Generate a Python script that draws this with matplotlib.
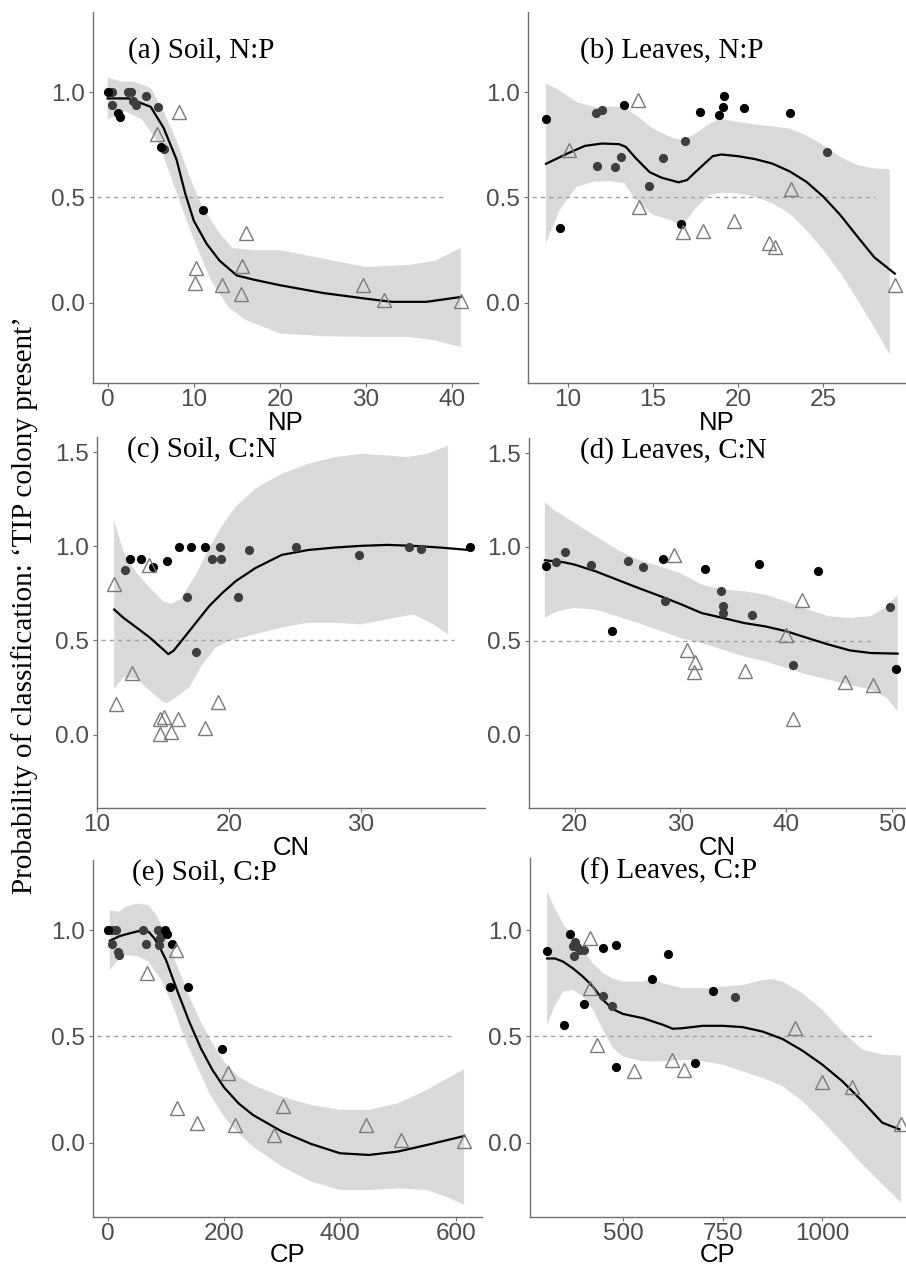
import numpy as np
import matplotlib
matplotlib.use("Agg")
import matplotlib.pyplot as plt

# (a) Soil, N:P
a_black_x = [0, 1.2, 1.4, 6.2, 11.1]
a_black_y = [1.0, 0.90, 0.88, 0.74, 0.44]
a_grey_x = [0.5, 0.5, 2.4, 2.7, 2.9, 3.3, 4.5, 5.8, 6.6]
a_grey_y = [1.0, 0.94, 1.0, 1.0, 0.96, 0.94, 0.98, 0.93, 0.73]
a_tri_x = [8.3, 5.7, 16.1, 10.3, 10.1, 13.3, 15.6, 15.5, 29.6, 32.1, 41.0]
a_tri_y = [0.905, 0.80, 0.33, 0.165, 0.095, 0.084, 0.175, 0.04, 0.084, 0.016, 0.008]
a_fit_x = [0, 2.5, 5, 6.5, 8, 9, 10, 11.5, 13, 15, 17, 20, 25, 30, 33, 37, 41]
a_fit_y = [0.97, 0.97, 0.93, 0.83, 0.68, 0.52, 0.39, 0.28, 0.20, 0.13, 0.11, 0.084, 0.047, 0.02, 0.005, 0.005, 0.028]
a_hi_x = [0, 1.5, 3, 5, 6.5, 8, 9.5, 11, 13, 14.5, 17, 20, 25, 30, 35, 38, 41]
a_hi_y = [1.07, 1.05, 1.05, 1.02, 0.91, 0.77, 0.60, 0.455, 0.33, 0.26, 0.25, 0.25, 0.21, 0.17, 0.18, 0.20, 0.26]
a_lo_x = [0, 2, 4, 6, 7.5, 9, 10.5, 12, 14, 16, 20, 25, 30, 35, 38, 41]
a_lo_y = [0.87, 0.91, 0.87, 0.755, 0.58, 0.41, 0.25, 0.107, -0.019, -0.08, -0.145, -0.158, -0.161, -0.161, -0.177, -0.21]

# (b) Leaves, N:P
b_black_x = [8.71, 9.51, 13.29, 16.63, 17.78, 18.87, 19.1, 19.16, 20.37, 23.04]
b_black_y = [0.874, 0.354, 0.94, 0.375, 0.906, 0.89, 0.929, 0.98, 0.926, 0.902]
b_grey_x = [11.66, 11.99, 11.70, 12.79, 13.14, 14.78, 15.6, 16.86, 25.2]
b_grey_y = [0.90, 0.913, 0.65, 0.643, 0.69, 0.554, 0.687, 0.77, 0.717]
b_tri_x = [10.04, 14.1, 14.17, 16.76, 17.93, 19.75, 21.83, 22.14, 23.1, 29.24]
b_tri_y = [0.724, 0.964, 0.457, 0.334, 0.343, 0.39, 0.283, 0.263, 0.54, 0.087]
b_fit_x = [8.71, 10, 11, 12, 13, 13.4, 14, 14.8, 15.5, 16.5, 17, 17.5, 18.5, 19, 20, 21, 22, 23, 24, 25, 26, 27, 28, 29.2]
b_fit_y = [0.66, 0.71, 0.745, 0.756, 0.753, 0.74, 0.685, 0.62, 0.594, 0.572, 0.583, 0.622, 0.696, 0.704, 0.696, 0.682, 0.661, 0.625, 0.575, 0.504, 0.417, 0.315, 0.216, 0.139]
b_hi_x = [8.71, 9.5, 10.5, 11.5, 12.5, 13.3, 14, 15, 16, 16.7, 17.5, 18.3, 19, 20, 21, 22, 23, 24, 25, 26, 27, 28, 28.9]
b_hi_y = [1.04, 1.008, 0.953, 0.929, 0.932, 0.929, 0.89, 0.827, 0.787, 0.772, 0.803, 0.85, 0.874, 0.858, 0.846, 0.838, 0.827, 0.795, 0.748, 0.693, 0.654, 0.638, 0.633]
b_lo_x = [8.71, 9.5, 10.5, 11.5, 12.5, 13.3, 14, 15, 16, 16.7, 17.5, 18.3, 19, 20, 21, 22, 23, 24, 25, 26, 27, 28, 28.9]
b_lo_y = [0.283, 0.44, 0.551, 0.575, 0.578, 0.567, 0.488, 0.417, 0.394, 0.362, 0.449, 0.512, 0.523, 0.52, 0.504, 0.472, 0.425, 0.346, 0.252, 0.142, 0.016, -0.118, -0.244]

# (c) Soil, C:N
c_black_x = [12.51, 13.32, 14.26, 15.3, 16.19, 17.16, 18.15, 38.25]
c_black_y = [0.93, 0.93, 0.889, 0.924, 0.995, 0.995, 0.995, 0.995]
c_grey_x = [12.13, 19.3, 18.73, 19.37, 16.8, 17.51, 20.69, 21.5, 25.05, 29.82, 33.63, 34.57]
c_grey_y = [0.875, 0.995, 0.93, 0.93, 0.73, 0.44, 0.73, 0.98, 0.995, 0.954, 0.995, 0.986]
c_tri_x = [11.29, 11.42, 12.64, 13.96, 14.8, 15.1, 14.77, 15.6, 16.17, 18.22, 19.16]
c_tri_y = [0.80, 0.16, 0.325, 0.90, 0.084, 0.093, 0.005, 0.014, 0.084, 0.037, 0.172]
c_fit_x = [11.3, 12, 13, 14, 15, 15.4, 15.8, 16.5, 17.5, 18.5, 19.5, 20.5, 22, 24, 26, 28, 30, 32, 34, 36, 38.2]
c_fit_y = [0.664, 0.62, 0.568, 0.515, 0.453, 0.427, 0.445, 0.506, 0.594, 0.682, 0.752, 0.814, 0.884, 0.954, 0.98, 0.993, 1.002, 1.007, 1.002, 0.993, 0.98]
c_hi_x = [11.3, 12, 13, 14, 15, 15.6, 16.3, 17.5, 18.5, 19.5, 20.5, 22, 24, 26, 28, 30, 32, 33.5, 35, 36.6]
c_hi_y = [1.139, 0.972, 0.858, 0.78, 0.708, 0.694, 0.717, 0.849, 0.989, 1.112, 1.209, 1.306, 1.385, 1.438, 1.473, 1.49, 1.482, 1.473, 1.49, 1.534]
c_lo_x = [11.3, 12, 13, 14, 15, 15.3, 16, 17, 18, 19, 20, 22, 24, 26, 28, 30, 32, 34, 35.5, 36.6]
c_lo_y = [0.243, 0.304, 0.295, 0.234, 0.172, 0.167, 0.199, 0.251, 0.374, 0.462, 0.497, 0.533, 0.568, 0.594, 0.594, 0.585, 0.612, 0.638, 0.585, 0.533]

# (d) Leaves, C:N
d_black_x = [17.27, 23.58, 28.36, 32.32, 37.37, 42.97, 50.32]
d_black_y = [0.897, 0.55, 0.934, 0.885, 0.909, 0.87, 0.352]
d_grey_x = [18.27, 19.06, 21.57, 25.03, 26.44, 28.58, 33.82, 33.98, 33.98, 36.78, 40.64, 49.75]
d_grey_y = [0.918, 0.973, 0.902, 0.924, 0.895, 0.71, 0.764, 0.687, 0.648, 0.639, 0.369, 0.68]
d_tri_x = [29.43, 30.62, 31.37, 31.31, 36.12, 39.95, 41.46, 40.58, 45.54, 48.21]
d_tri_y = [0.959, 0.453, 0.387, 0.332, 0.341, 0.533, 0.719, 0.085, 0.281, 0.263]
d_fit_x = [17.2, 18, 19, 20, 22, 24, 26, 28, 30, 32, 34, 36, 38, 40, 42, 44, 46, 48, 50.5]
d_fit_y = [0.929, 0.924, 0.918, 0.906, 0.87, 0.826, 0.782, 0.74, 0.696, 0.648, 0.622, 0.595, 0.577, 0.551, 0.515, 0.48, 0.449, 0.435, 0.432]
d_hi_x = [17.2, 18, 19, 20, 22, 24, 26, 28, 30, 32, 34, 36, 38, 40, 42, 44, 46, 48, 49.5, 50.5]
d_hi_y = [1.238, 1.199, 1.163, 1.128, 1.057, 0.986, 0.932, 0.897, 0.861, 0.799, 0.773, 0.764, 0.746, 0.71, 0.666, 0.631, 0.622, 0.631, 0.684, 0.746]
d_lo_x = [17.2, 18, 19, 20, 22, 24, 26, 28, 30, 32, 34, 36, 38, 40, 42, 44, 46, 48, 49.5, 50.5]
d_lo_y = [0.622, 0.648, 0.666, 0.675, 0.666, 0.631, 0.595, 0.556, 0.515, 0.488, 0.453, 0.417, 0.391, 0.355, 0.32, 0.293, 0.266, 0.24, 0.195, 0.124]

# (e) Soil, C:P
e_black_x = [0, 98, 101, 111, 106, 138, 196]
e_black_y = [1.0, 1.0, 0.984, 0.937, 0.733, 0.733, 0.44]
e_grey_x = [7.5, 13, 7.5, 17, 19, 60, 65, 86, 92, 89, 88]
e_grey_y = [1.0, 1.0, 0.937, 0.898, 0.882, 1.0, 0.937, 1.0, 0.992, 0.961, 0.929]
e_tri_x = [67, 118, 119, 154, 207, 219, 286, 302, 445, 506, 614]
e_tri_y = [0.80, 0.906, 0.161, 0.094, 0.326, 0.083, 0.036, 0.174, 0.083, 0.013, 0.008]
e_fit_x = [3, 20, 40, 60, 70, 80, 90, 100, 120, 140, 160, 180, 200, 225, 250, 300, 350, 400, 450, 500, 550, 614]
e_fit_y = [0.95, 0.972, 0.987, 1.0, 0.992, 0.961, 0.914, 0.859, 0.71, 0.569, 0.444, 0.342, 0.26, 0.185, 0.13, 0.052, -0.006, -0.05, -0.058, -0.042, -0.011, 0.031]
e_hi_x = [3, 20, 30, 50, 70, 85, 100, 120, 140, 160, 180, 200, 225, 250, 300, 350, 400, 450, 500, 550, 590, 614]
e_hi_y = [1.094, 1.086, 1.11, 1.125, 1.118, 1.063, 0.969, 0.828, 0.687, 0.569, 0.467, 0.381, 0.31, 0.271, 0.216, 0.177, 0.154, 0.154, 0.185, 0.248, 0.31, 0.345]
e_lo_x = [3, 15, 30, 50, 70, 90, 110, 130, 150, 175, 200, 225, 250, 300, 350, 400, 450, 500, 550, 590, 614]
e_lo_y = [0.812, 0.851, 0.882, 0.878, 0.851, 0.773, 0.655, 0.506, 0.381, 0.232, 0.122, 0.044, -0.019, -0.113, -0.183, -0.223, -0.223, -0.215, -0.223, -0.262, -0.293]

# (f) Leaves, C:P
f_black_x = [310, 352, 367, 402, 450, 482, 482, 573, 614, 681, 725]
f_black_y = [0.90, 0.555, 0.98, 0.653, 0.914, 0.93, 0.356, 0.77, 0.89, 0.375, 0.716]
f_grey_x = [379, 375, 385, 377, 392, 402, 450, 473, 782]
f_grey_y = [0.945, 0.925, 0.922, 0.878, 0.906, 0.906, 0.692, 0.645, 0.688]
f_tri_x = [417, 417, 435, 528, 623, 654, 931, 1000, 1075, 1198]
f_tri_y = [0.964, 0.73, 0.458, 0.339, 0.39, 0.344, 0.539, 0.284, 0.262, 0.089]
f_fit_x = [310, 330, 350, 375, 400, 425, 450, 475, 500, 550, 600, 625, 650, 700, 750, 800, 850, 900, 950, 1000, 1050, 1100, 1150, 1193]
f_fit_y = [0.867, 0.867, 0.852, 0.82, 0.781, 0.734, 0.672, 0.628, 0.606, 0.586, 0.555, 0.536, 0.539, 0.55, 0.55, 0.544, 0.523, 0.488, 0.433, 0.367, 0.289, 0.195, 0.094, 0.063]
f_hi_x = [310, 330, 350, 375, 400, 425, 450, 475, 500, 550, 575, 600, 650, 700, 750, 800, 850, 875, 900, 950, 1000, 1050, 1100, 1150, 1197]
f_hi_y = [1.184, 1.10, 1.03, 0.969, 0.906, 0.844, 0.797, 0.773, 0.758, 0.758, 0.773, 0.75, 0.727, 0.727, 0.734, 0.742, 0.766, 0.769, 0.758, 0.703, 0.625, 0.523, 0.438, 0.414, 0.41]
f_lo_x = [310, 330, 350, 375, 400, 425, 450, 475, 500, 550, 600, 650, 700, 750, 800, 850, 900, 950, 1000, 1050, 1100, 1150, 1197]
f_lo_y = [0.555, 0.648, 0.711, 0.719, 0.688, 0.625, 0.531, 0.445, 0.406, 0.383, 0.383, 0.39, 0.383, 0.367, 0.336, 0.305, 0.266, 0.195, 0.102, 0.0, -0.102, -0.195, -0.281]

titles = ["(a) Soil, N:P", "(b) Leaves, N:P", "(c) Soil, C:N",
          "(d) Leaves, C:N", "(e) Soil, C:P", "(f) Leaves, C:P"]
xlabels = ["NP", "NP", "CN", "CN", "CP", "CP"]

panels = [
    (a_black_x, a_black_y, a_grey_x, a_grey_y, a_tri_x, a_tri_y, a_fit_x, a_fit_y, a_hi_x, a_hi_y, a_lo_x, a_lo_y),
    (b_black_x, b_black_y, b_grey_x, b_grey_y, b_tri_x, b_tri_y, b_fit_x, b_fit_y, b_hi_x, b_hi_y, b_lo_x, b_lo_y),
    (c_black_x, c_black_y, c_grey_x, c_grey_y, c_tri_x, c_tri_y, c_fit_x, c_fit_y, c_hi_x, c_hi_y, c_lo_x, c_lo_y),
    (d_black_x, d_black_y, d_grey_x, d_grey_y, d_tri_x, d_tri_y, d_fit_x, d_fit_y, d_hi_x, d_hi_y, d_lo_x, d_lo_y),
    (e_black_x, e_black_y, e_grey_x, e_grey_y, e_tri_x, e_tri_y, e_fit_x, e_fit_y, e_hi_x, e_hi_y, e_lo_x, e_lo_y),
    (f_black_x, f_black_y, f_grey_x, f_grey_y, f_tri_x, f_tri_y, f_fit_x, f_fit_y, f_hi_x, f_hi_y, f_lo_x, f_lo_y),
]

# layout, pixels measured on the 906x1271 original
W, H = 906, 1271
boxes = [(93, 478, 12, 383), (528, 905, 12, 383),
         (97, 485, 437, 808), (529, 905, 438, 808),
         (93, 482, 860, 1217), (530, 905, 858, 1217)]
xlims = [(-1.7, 43.0), (7.65, 29.8), (10.0, 39.4), (15.7, 51.2), (-26, 645), (267, 1207)]
ylims = [(-0.38, 1.38), (-0.38, 1.38), (-0.39, 1.58), (-0.39, 1.58), (-0.35, 1.33), (-0.35, 1.34)]
xticks = [[0, 10, 20, 30, 40], [10, 15, 20, 25], [10, 20, 30], [20, 30, 40, 50],
          [0, 200, 400, 600], [500, 750, 1000]]
yticks = [[0, 0.5, 1.0], [0, 0.5, 1.0], [0, 0.5, 1.0, 1.5], [0, 0.5, 1.0, 1.5],
          [0, 0.5, 1.0], [0, 0.5, 1.0]]
title_pos = [(0.091, 0.897), (0.138, 0.897), (0.077, 0.965),
             (0.135, 0.965), (0.10, 0.964), (0.133, 0.964)]
label_pads = [0, 0, 0, 0, -1, -1]

serif = "Liberation Serif"
sans = "Liberation Sans"
axcol = "#6e6e6e"
tickcol = "#4d4d4d"

fig = plt.figure(figsize=(W / 100, H / 100), dpi=100)

for i, p in enumerate(panels):
    bx, by, gx, gy, tx, ty, fx, fy, hx, hy, lx, ly = p
    l, r, t, b = boxes[i]
    ax = fig.add_axes([l / W, 1 - b / H, (r - l) / W, (b - t) / H])

    ax.fill(list(hx) + list(lx)[::-1], list(hy) + list(ly)[::-1],
            color="#d9d9d9", lw=0, zorder=1)
    ax.axhline(0.5, xmin=0.01, xmax=0.92, color="#a0a0a0", lw=1, ls=(0, (3, 3)), zorder=2)
    ax.plot(fx, fy, color="black", lw=1.6, zorder=3)
    ax.plot(gx, gy, "o", color="#3d3d3d", ms=6.6, mew=0, zorder=4)
    ax.plot(bx, by, "o", color="black", ms=6.6, mew=0, zorder=4)
    ax.plot(tx, ty, "^", mfc="none", mec="#7a7a7a", ms=10, mew=1.0, zorder=4)

    ax.set_xlim(xlims[i])
    ax.set_ylim(ylims[i])
    ax.set_xticks(xticks[i])
    ax.set_yticks(yticks[i])
    ax.set_yticklabels(["%.1f" % v for v in yticks[i]])
    for s in ["top", "right"]:
        ax.spines[s].set_visible(False)
    for s in ["left", "bottom"]:
        ax.spines[s].set_color(axcol)
        ax.spines[s].set_linewidth(1.0)
    ax.tick_params(length=3, width=0.8, color=axcol, labelcolor=tickcol,
                   labelsize=17.5)
    ax.tick_params(axis="x", pad=1)
    ax.tick_params(axis="y", pad=3)
    for lab in ax.get_xticklabels() + ax.get_yticklabels():
        lab.set_family(sans)
    ax.set_xlabel(xlabels[i], family=sans, fontsize=18.5, color="black",
                  labelpad=label_pads[i])
    ax.text(title_pos[i][0], title_pos[i][1], titles[i], transform=ax.transAxes,
            ha="left", va="center", family=serif, fontsize=21)

fig.text(0.027, 0.524, "Probability of classification: \u2018TIP colony present\u2019",
         rotation=90, ha="center", va="center", family=serif, fontsize=21)

fig.savefig("out.png", dpi=100)
